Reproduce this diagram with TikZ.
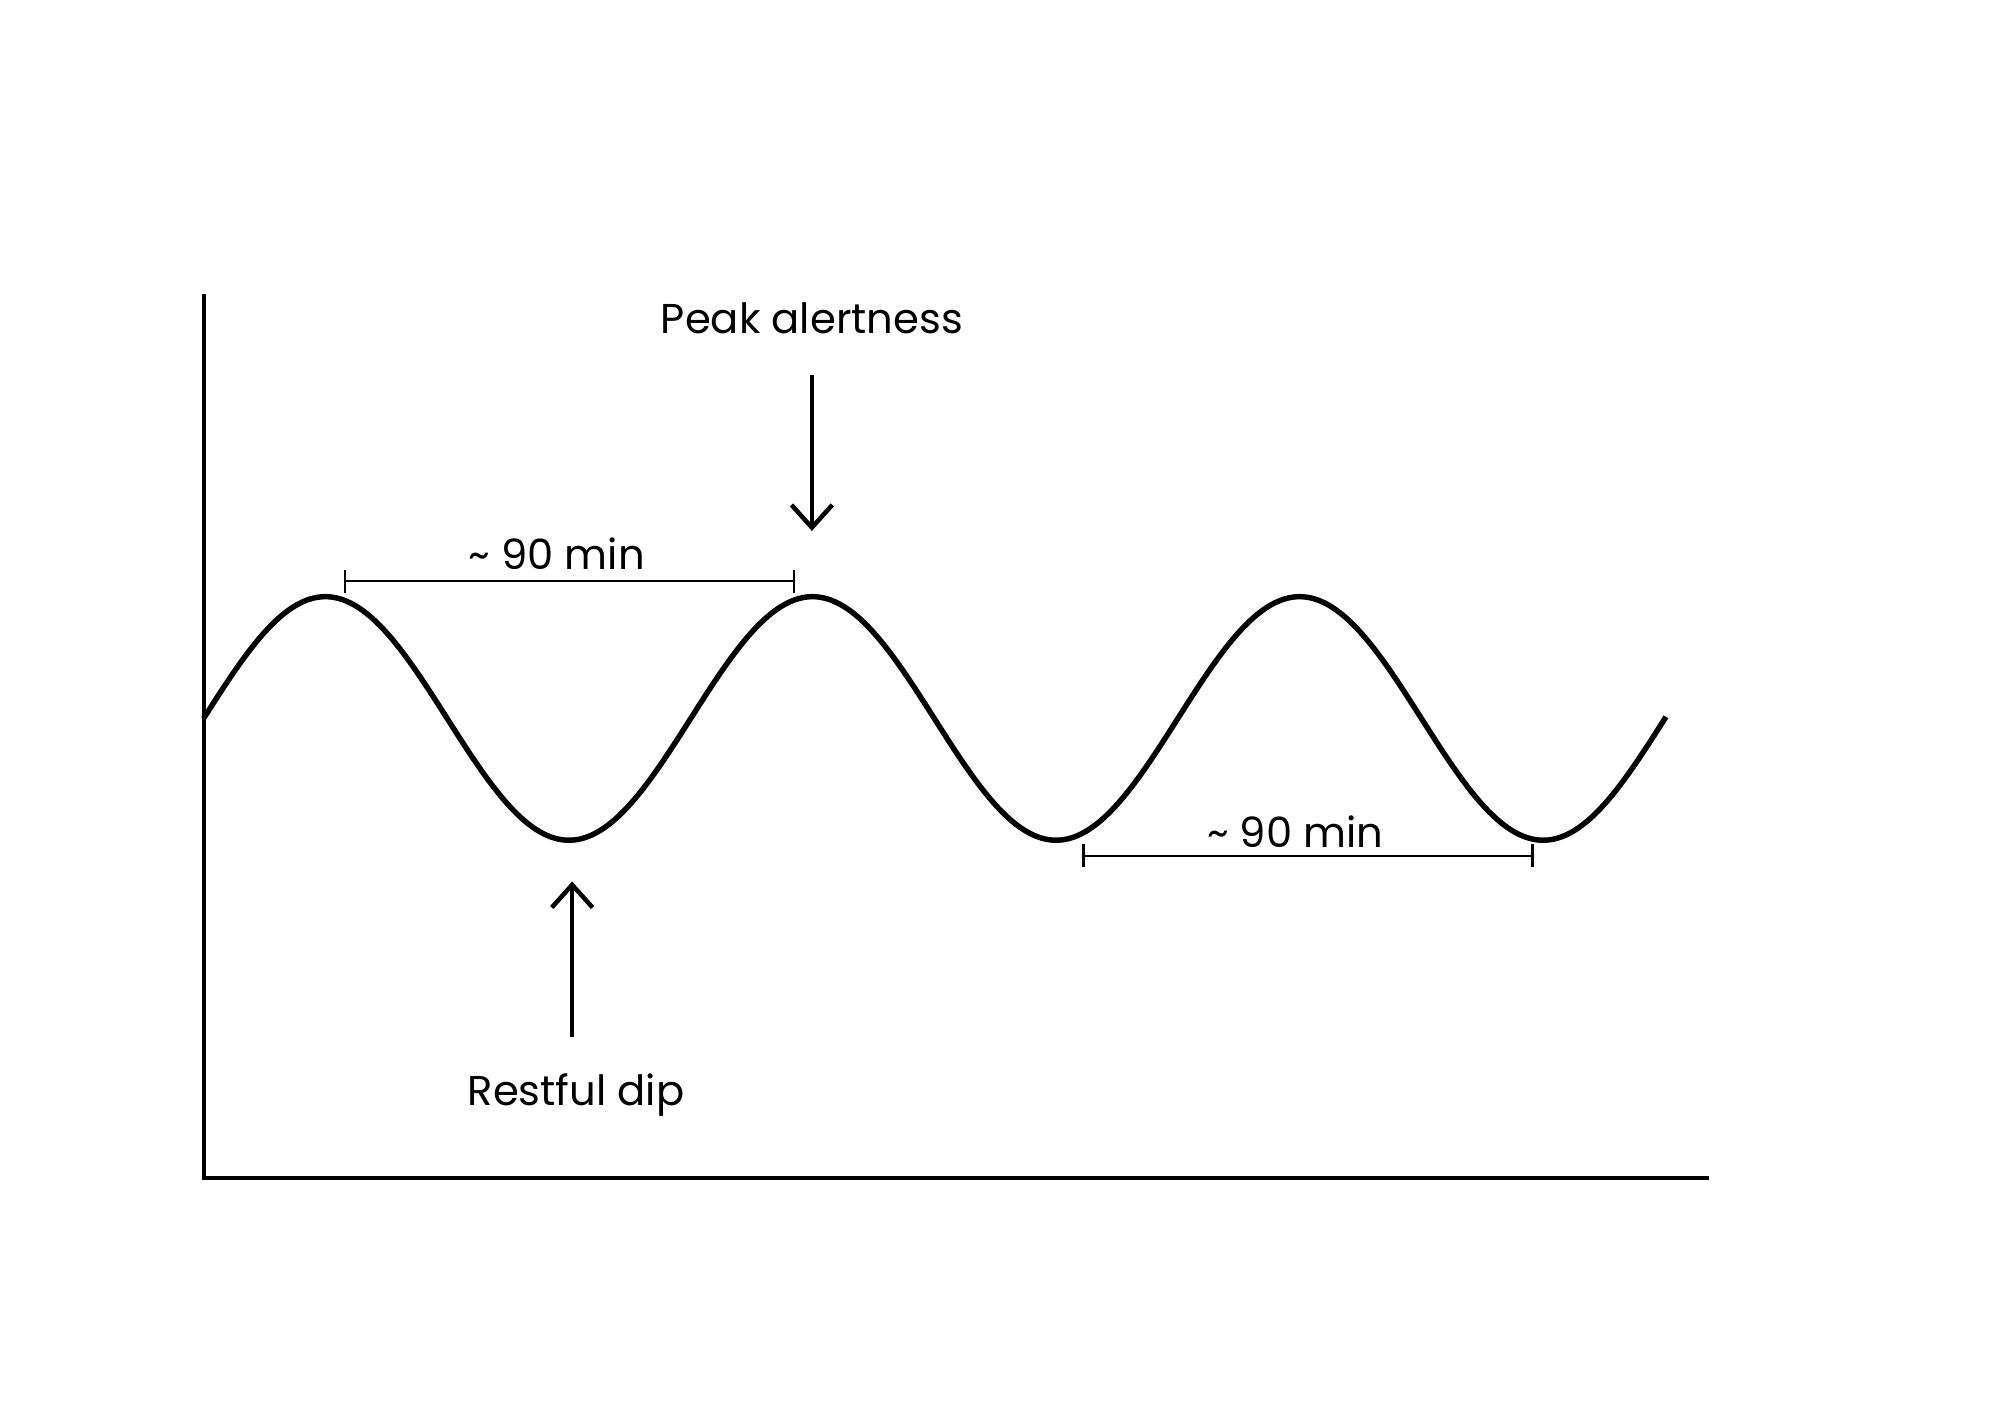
\documentclass[tikz,border=0pt]{standalone}
\usepackage{fontspec}
\setmainfont{Poppins}
\usetikzlibrary{arrows.meta}
\begin{document}
\begin{tikzpicture}[x=0.01cm,y=-0.01cm,
  axis/.style={line width=0.85pt},
  wave/.style={line width=1.2pt},
  pointer/.style={line width=1pt,-{Straight Barb[length=5pt,width=9pt,line width=1pt]}},
  span/.style={line width=0.5pt,|-|},
  lbl/.style={font=\fontsize{9.2}{11}\selectfont,inner sep=0pt}]
\useasboundingbox (0,0) rectangle (1552,1108);
\coordinate (ytop) at (158,228);
\coordinate (org) at (158,914);
\coordinate (xend) at (1326,914);
\draw[axis] (ytop) -- (org) -- (xend);
\draw[wave] plot[variable=\t,domain=0:3.0026,samples=300,smooth] ({158+378*\t},{557.5-94.5*sin(360*\t)});
\node[lbl] (peak) at (630,247) {Peak alertness};
\coordinate (pa) at (630,291);
\coordinate (pb) at (630,412);
\draw[pointer] (pa) -- (pb);
\node[lbl] (dip) at (447,850) {Restful dip};
\coordinate (da) at (444,805);
\coordinate (db) at (444,684);
\draw[pointer] (da) -- (db);
\node[lbl] (m1) at (432,430) {\char`~\ 90 min};
\coordinate (s1a) at (267,451);
\coordinate (s1b) at (617,451);
\draw[span] (s1a) -- (s1b);
\node[lbl] (m2) at (1005,645) {\char`~\ 90 min};
\coordinate (s2a) at (840,664);
\coordinate (s2b) at (1190,664);
\draw[span] (s2a) -- (s2b);
\end{tikzpicture}
\end{document}
